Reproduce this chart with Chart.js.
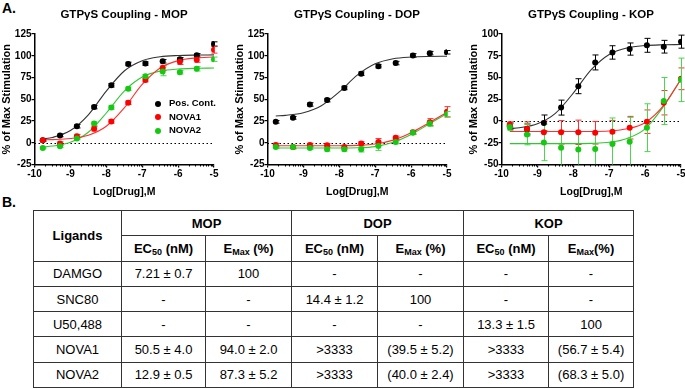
<!DOCTYPE html>
<html>
<head>
<meta charset="utf-8">
<script src="https://cdn.jsdelivr.net/npm/chart.js@4.4.1/dist/chart.umd.min.js"></script>
<style>
  body { margin: 0; width: 685px; height: 389px; overflow: hidden; position: relative; background: #fff;
         font-family: "Liberation Sans", Arial, sans-serif; color: #000; }
  canvas.panel { position: absolute; top: 0; }
  .tag { position: absolute; font-weight: bold; font-size: 14px; }
  .ptitle { position: absolute; top: 7px; width: 200px; text-align: center; font-weight: bold; font-size: 11.5px;
            line-height: 14px; white-space: nowrap; }
  #legend { position: absolute; left: 155px; top: 96px; font-size: 9.5px; font-weight: bold; }
  #legend div { height: 13.5px; line-height: 13.5px; white-space: nowrap; }
  #legend span.dot { display: inline-block; width: 6px; height: 6px; border-radius: 50%; margin-right: 8px; vertical-align: -0.5px; }
  table { position: absolute; left: 33px; top: 210px; border-collapse: collapse; table-layout: fixed;
          font-size: 13px; }
  td, th { border: 1.5px solid #333; text-align: center; height: 24.3px; padding: 0; }
  th { font-weight: bold; }
  sub { font-size: 9px; vertical-align: -2px; line-height: 0; }
</style>
</head>
<body>
<div class="tag" style="left:2px;top:0px;">A.</div>
<div class="tag" style="left:2px;top:194px;">B.</div>
<canvas class="panel" id="mop" width="240" height="200" style="left:0px"></canvas>
<canvas class="panel" id="dop" width="240" height="200" style="left:233px"></canvas>
<canvas class="panel" id="kop" width="240" height="200" style="left:467px"></canvas>
<div class="ptitle" id="mopTitle" style="left:24px"></div>
<div class="ptitle" id="dopTitle" style="left:257px"></div>
<div class="ptitle" id="kopTitle" style="left:491px"></div>
<div id="legend"></div>
<table id="tbl"></table>
<script>
// log dose of each measured point, and of the fitted curve samples
var doses = [-9.77, -9.29, -8.82, -8.34, -7.86, -7.39, -6.91, -6.43, -5.95, -5.48, -5.0];
var fitDoses = [-9.77, -9.5, -9, -8.5, -8, -7.5, -7, -6.5, -6, -5.5, -5];
var seriesNames = ['Pos. Cont.', 'NOVA1', 'NOVA2'];
var seriesColors = ['#000000', '#ff0000', '#14c814'];
var errorColors = ['#000000', '#ff3030', '#4cd64c'];
var fitColors = ['#333333', '#ff3030', '#30c830'];

// MOP
var mopPos = [3, 8.4, 19, 41, 66, 90.6, 91, 93.6, 96, 100.5, 113.5];
var mopPosErr = [1, 1.5, 2, 2, 2, 2, 2, 2, 2, 2, 2.5];
var mopPosFit = [4.3, 6.1, 14.0, 32.1, 59.4, 82.5, 94.3, 98.8, 100.3, 100.8, 101];
var mopNova1 = [3, -1, 7.6, 16, 24.5, 46, 72, 86, 93, 95.5, 107];
var mopNova1Err = [1, 2, 2, 2.5, 2, 2, 2, 3, 3, 3, 4];
var mopNova1Fit = [3.3, 3.6, 4.9, 8.7, 19.0, 40.1, 67, 85.9, 94.4, 97.5, 98.5];
var mopNova2 = [-6, -4, 5, 22, 40.5, 62, 76.5, 82, 81, 85, 96];
var mopNova2Err = [1, 1.5, 1.5, 2, 2, 2, 2, 5, 2, 2.5, 2.5];
var mopNova2Fit = [-4.8, -3.8, 0.6, 12.1, 34.2, 59.4, 75.5, 82.4, 84.8, 85.6, 85.9];

// DOP
var dopPos = [24, 28.6, 44, 49, 63, 79.4, 88, 91.6, 100.4, 103, 104];
var dopPosErr = [1.5, 1.5, 2, 2, 2, 2, 2, 2, 2, 2, 2];
var dopPosFit = [30.8, 31.5, 34.5, 42.5, 58.4, 77.7, 90.7, 96.5, 98.5, 99.2, 99.4];
var dopNova1 = [-2.7, -5, -2.7, -3, -5, -0.8, 0.8, 5.7, 12.2, 23.7, 35.5];
var dopNova1Err = [2, 2, 2, 2, 2, 2, 4, 2, 2, 4, 6];
var dopNova1Fit = [-3.5, -3.5, -3.5, -3.5, -3.4, -3, -1.5, 3, 11.5, 23, 35];
var dopNova2 = [-5, -5, -6, -7.6, -7.6, -7.6, -3.8, 0.8, 11.5, 22, 33];
var dopNova2Err = [1.5, 1.5, 1.5, 2, 2, 3, 5, 2, 2, 3, 3];
var dopNova2Fit = [-6, -6, -6, -6, -6, -5.8, -4.5, 0.5, 9.5, 21.5, 33.5];

// KOP
var kopPos = [-5.8, -9.2, -2.3, 15.4, 40, 67.3, 78.8, 82.7, 87, 85.4, 91.2];
var kopPosErr = [3.5, 5.8, 9.2, 8.6, 8.6, 8.6, 7.7, 7, 8, 7.3, 7.5];
var kopPosFit = [-8.8, -7.7, -3.2, 8.8, 32.1, 59, 76.5, 84, 86.7, 87.6, 87.9];
var kopNova1 = [-4, -9, -13, -13, -13, -13.5, -12.3, -7.7, -0.8, 21, 48.5];
var kopNova1Err = [3, 8, 13, 13.5, 14, 13, 13, 13, 13.5, 14, 12.5];
var kopNova1Fit = [-12, -12, -12, -12, -12, -12, -11.5, -9, -2, 17, 48];
var kopNova2 = [-7, -15.4, -24.6, -30.8, -32.7, -32.3, -26.5, -23.8, -7.7, 23, 47.3];
var kopNova2Err = [4, 12, 21, 20, 20, 20, 30, 28, 27.5, 27, 25];
var kopNova2Fit = [-26, -26, -26, -26, -26, -25.7, -24.5, -20, -9, 16, 48];

// table B
var ligands = ['DAMGO', 'SNC80', 'U50,488', 'NOVA1', 'NOVA2'];
var receptors = ['MOP', 'DOP', 'KOP'];
var mopEC50 = ['7.21 ± 0.7', '-', '-', '50.5 ± 4.0', '12.9 ± 0.5'];
var mopEmax = ['100', '-', '-', '94.0 ± 2.0', '87.3 ± 5.2'];
var dopEC50 = ['-', '14.4 ± 1.2', '-', '>3333', '>3333'];
var dopEmax = ['-', '100', '-', '(39.5 ± 5.2)', '(40.0 ± 2.4)'];
var kopEC50 = ['-', '-', '13.3 ± 1.5', '>3333', '>3333'];
var kopEmax = ['-', '-', '100', '(56.7 ± 5.4)', '(68.3 ± 5.0)'];

var FONT = "'Liberation Sans', Arial, sans-serif";

function pts(xs, ys) {
    return xs.map(function(x, i) { return { x: x, y: ys[i] }; });
}

// zero line, error bars and minor log ticks
var extrasPlugin = {
    id: 'extras',
    beforeDatasetsDraw: function(chart) {
        var ctx = chart.ctx, xs = chart.scales.x, ys = chart.scales.y, a = chart.chartArea;
        ctx.save();
        var y0 = Math.round(ys.getPixelForValue(0)) + 0.5;
        ctx.strokeStyle = '#000';
        ctx.lineWidth = 1;
        ctx.setLineDash([1.5, 2.5]);
        ctx.beginPath();
        ctx.moveTo(a.left, y0);
        ctx.lineTo(a.right, y0);
        ctx.stroke();
        ctx.setLineDash([]);

        ctx.beginPath();
        ctx.rect(a.left, a.top - 2, a.right - a.left + 6, a.bottom - a.top + 2);
        ctx.clip();
        chart.data.datasets.forEach(function(ds) {
            if (!ds.errors) return;
            ctx.strokeStyle = ds.errorColor;
            ctx.lineWidth = 1;
            ds.data.forEach(function(p, j) {
                var e = ds.errors[j];
                var px = Math.round(xs.getPixelForValue(p.x)) + 0.5;
                var top = ys.getPixelForValue(p.y + e);
                var bot = ys.getPixelForValue(p.y - e);
                ctx.beginPath();
                ctx.moveTo(px, top); ctx.lineTo(px, bot);
                ctx.moveTo(px - 3, top); ctx.lineTo(px + 3, top);
                ctx.moveTo(px - 3, bot); ctx.lineTo(px + 3, bot);
                ctx.stroke();
            });
        });
        ctx.restore();
    },
    afterDraw: function(chart) {
        var ctx = chart.ctx, xs = chart.scales.x, a = chart.chartArea;
        ctx.save();
        ctx.strokeStyle = '#000';
        ctx.lineWidth = 1;
        for (var n = -10; n < -5; n++) {
            for (var k = 2; k <= 9; k++) {
                var px = Math.round(xs.getPixelForValue(n + Math.log10(k))) + 0.5;
                ctx.beginPath();
                ctx.moveTo(px, a.bottom);
                ctx.lineTo(px, a.bottom + 2);
                ctx.stroke();
            }
        }
        ctx.restore();
    }
};

function makePanel(id, title, yMin, yMax, values, errors, fits) {
    document.getElementById(id + 'Title').textContent = title;
    var datasets = [];
    for (var s = 0; s < 3; s++) {
        datasets.push({
            type: 'scatter',
            data: pts(doses, values[s]),
            errors: errors[s],
            errorColor: errorColors[s],
            backgroundColor: seriesColors[s],
            borderColor: seriesColors[s],
            pointRadius: 3,
            borderWidth: 0,
            order: 3 - s
        });
    }
    for (var s2 = 0; s2 < 3; s2++) {
        datasets.push({
            type: 'line',
            data: pts(fitDoses, fits[s2]),
            borderColor: fitColors[s2],
            borderWidth: 1.1,
            pointRadius: 0,
            fill: false,
            cubicInterpolationMode: 'monotone',
            order: 10 + s2
        });
    }
    new Chart(document.getElementById(id).getContext('2d'), {
        type: 'scatter',
        data: { datasets: datasets },
        options: {
            responsive: false,
            animation: false,
            events: [],
            layout: { padding: { left: 0, right: 26, top: 34, bottom: 0 } },
            plugins: {
                legend: { display: false },
                tooltip: { enabled: false }
            },
            scales: {
                x: {
                    type: 'linear', min: -10, max: -5,
                    afterFit: function(scale) { scale.height = 35.5; },
                    ticks: { stepSize: 1, color: '#000', padding: 1, font: { family: FONT, size: 10, weight: 'bold' } },
                    grid: { drawOnChartArea: false, tickLength: 3, color: '#000', lineWidth: 1.2 },
                    border: { color: '#000', width: 1.5 },
                    title: { display: true, text: 'Log[Drug],M', color: '#000', padding: { top: 0, bottom: 2 },
                             font: { family: FONT, size: 10.5, weight: 'bold' } }
                },
                y: {
                    min: yMin, max: yMax,
                    afterFit: function(scale) { scale.width = 34.5; },
                    ticks: { stepSize: 25, color: '#000', padding: 0, font: { family: FONT, size: 10, weight: 'bold' } },
                    grid: { drawOnChartArea: false, tickLength: 3, color: '#000', lineWidth: 1.2 },
                    border: { color: '#000', width: 1.5 },
                    title: { display: true, text: '% of Max Stimulation', color: '#000', padding: 0,
                             font: { family: FONT, size: 11, weight: 'bold' } }
                }
            }
        },
        plugins: [extrasPlugin]
    });
}

makePanel('mop', 'GTPγS Coupling - MOP', -25, 125,
    [mopPos, mopNova1, mopNova2], [mopPosErr, mopNova1Err, mopNova2Err], [mopPosFit, mopNova1Fit, mopNova2Fit]);
makePanel('dop', 'GTPγS Coupling - DOP', -25, 125,
    [dopPos, dopNova1, dopNova2], [dopPosErr, dopNova1Err, dopNova2Err], [dopPosFit, dopNova1Fit, dopNova2Fit]);
makePanel('kop', 'GTPγS Coupling - KOP', -50, 100,
    [kopPos, kopNova1, kopNova2], [kopPosErr, kopNova1Err, kopNova2Err], [kopPosFit, kopNova1Fit, kopNova2Fit]);

// legend of the MOP panel
var legend = document.getElementById('legend');
seriesNames.forEach(function(name, i) {
    var row = document.createElement('div');
    var dot = document.createElement('span');
    dot.className = 'dot';
    dot.style.background = seriesColors[i];
    row.appendChild(dot);
    row.appendChild(document.createTextNode(name));
    legend.appendChild(row);
});

// table B
function esc(t) { return t.replace(/&/g, '&amp;').replace(/</g, '&lt;').replace(/>/g, '&gt;'); }
var widths = [88, 84, 86, 86, 86, 85, 85];
var cols = [mopEC50, mopEmax, dopEC50, dopEmax, kopEC50, kopEmax];
var html = '<colgroup>' + widths.map(function(w) { return '<col style="width:' + w + 'px">'; }).join('') + '</colgroup>';
html += '<tr><th rowspan="2">Ligands</th>' + receptors.map(function(r) { return '<th colspan="2">' + r + '</th>'; }).join('') + '</tr>';
html += '<tr><th>EC<sub>50</sub> (nM)</th><th>E<sub>Max</sub> (%)</th>' +
        '<th>EC<sub>50</sub> (nM)</th><th>E<sub>Max</sub> (%)</th>' +
        '<th>EC<sub>50</sub> (nM)</th><th>E<sub>Max</sub>(%)</th></tr>';
ligands.forEach(function(lig, r) {
    html += '<tr><td>' + esc(lig) + '</td>' + cols.map(function(c) { return '<td>' + esc(c[r]) + '</td>'; }).join('') + '</tr>';
});
var tbl = document.getElementById('tbl');
tbl.innerHTML = html;
tbl.style.width = widths.reduce(function(a, b) { return a + b; }, 0) + 'px';
</script>
</body>
</html>
